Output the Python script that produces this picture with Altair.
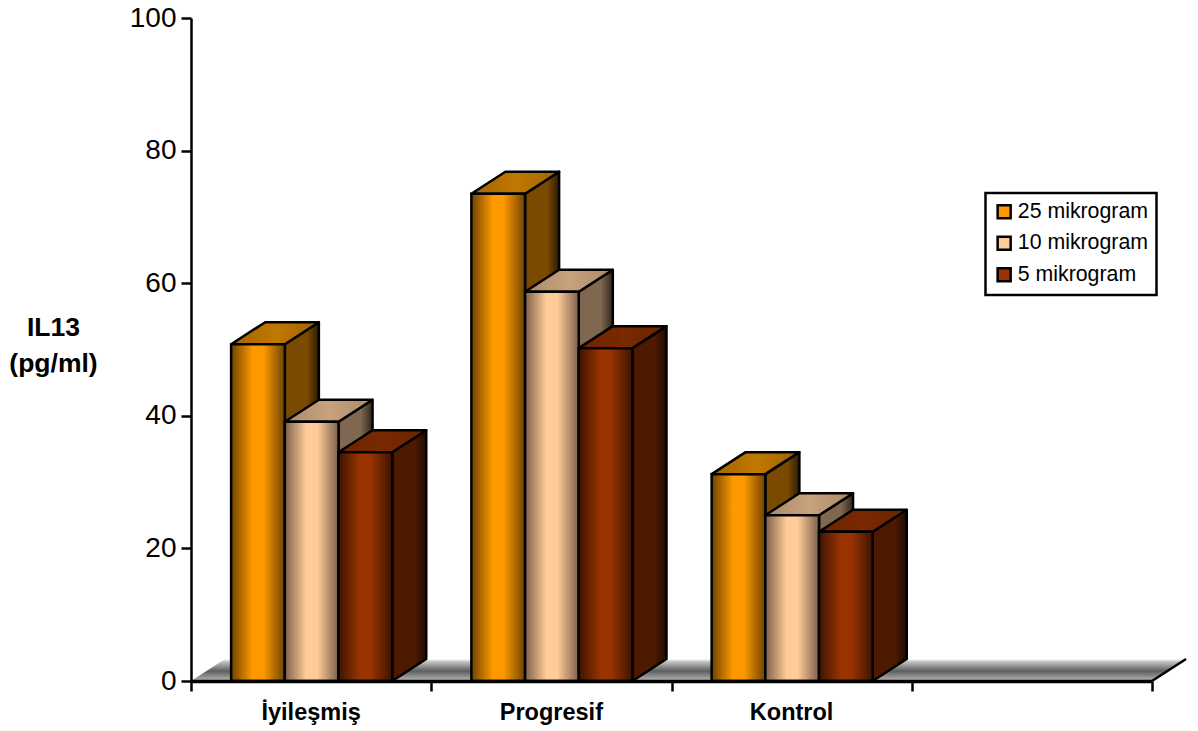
import altair as alt
import pandas as pd

CATEGORIES = ["İyileşmiş", "Progresif", "Kontrol"]
SERIES = ["25 mikrogram", "10 mikrogram", "5 mikrogram"]
VALUES = {
    "25 mikrogram": [50.8, 73.5, 31.2],
    "10 mikrogram": [39.1, 58.7, 25.0],
    "5 mikrogram": [34.5, 50.2, 22.5],
}
Y_TICKS = [0, 20, 40, 60, 80, 100]
X_TICKS = [0, 1, 2, 3, 4]

# Face colours per series: dark edge / bright centre for front, side and top.
FRONT = {"25 mikrogram": ("#6e4300", "#ff9900"),
         "10 mikrogram": ("#7d6048", "#ffcc99"),
         "5 mikrogram": ("#3d1400", "#993300")}
SIDE = {"25 mikrogram": ("#7a4a00", "#2e1c00"),
        "10 mikrogram": ("#80674f", "#2f261d"),
        "5 mikrogram": ("#4d1a00", "#1f0a00")}
TOP = {"25 mikrogram": ("#a06400", "#c07800"),
       "10 mikrogram": ("#a88a6c", "#c8a27c"),
       "5 mikrogram": ("#6a2400", "#7a2900")}

# 3D geometry in data units.
BAR_START = 0.167
BAR_WIDTH = 0.2235
DEPTH_X = 0.1417
DEPTH_Y = 3.32

FONT = "Liberation Sans"


def gradient(stops, horizontal=True):
    return alt.LinearGradient(
        gradient="linear",
        stops=[alt.GradientStop(color=c, offset=o) for o, c in stops],
        x1=0, x2=1 if horizontal else 0, y1=0, y2=0 if horizontal else 1,
    )


x_enc = alt.X(
    "x:Q",
    scale=alt.Scale(domain=[0, 4], nice=False, zero=False),
    axis=alt.Axis(values=X_TICKS, labels=False, title=None, grid=False, tickSize=10,
                  tickWidth=2.5, domainWidth=3.5, tickColor="black", domainColor="black",
                  zindex=1),
)
y_enc = alt.Y(
    "y:Q",
    scale=alt.Scale(domain=[0, 100], nice=False),
    axis=alt.Axis(values=Y_TICKS, title=["IL13", "(pg/ml)"], titleAngle=0, titleX=-138,
                  titleY=309, titleAlign="center", titleBaseline="middle", titleFont=FONT,
                  titleFontSize=26.5, titleFontWeight="bold", titleLineHeight=36,
                  titleColor="black", grid=False, tickSize=10, tickWidth=2.5, domainWidth=2.5,
                  tickColor="black", domainColor="black", labelFont=FONT, labelFontSize=28,
                  labelColor="black", labelPadding=5, zindex=1),
)

front_rows, side_rows, top_rows = [], [], []
for s_idx, series in enumerate(SERIES):
    for c_idx, value in enumerate(VALUES[series]):
        x0 = c_idx + BAR_START + s_idx * BAR_WIDTH
        x1 = x0 + BAR_WIDTH
        bar = f"{c_idx}-{s_idx}"
        front_rows.append(dict(series=series, bar=bar, x=x0, x2=x1, y=value, y2=0))
        side_rows += [
            dict(series=series, bar=bar, x=x1, y=value, y2=0),
            dict(series=series, bar=bar, x=x1 + DEPTH_X, y=value + DEPTH_Y, y2=DEPTH_Y),
        ]
        top_rows += [
            dict(series=series, bar=bar, y=value, x=x0, x2=x1),
            dict(series=series, bar=bar, y=value + DEPTH_Y, x=x0 + DEPTH_X, x2=x1 + DEPTH_X),
        ]
front_df = pd.DataFrame(front_rows)
side_df = pd.DataFrame(side_rows)
top_df = pd.DataFrame(top_rows)

# Solid front faces carry the colour legend; shaded faces are drawn over them.
legend_layer = alt.Chart(front_df).mark_rect().encode(
    x=x_enc, x2="x2:Q", y=y_enc, y2="y2:Q",
    color=alt.Color(
        "series:N",
        scale=alt.Scale(domain=SERIES, range=[FRONT[s][1] for s in SERIES]),
        legend=alt.Legend(
            title=None, orient="none", legendX=794.5, legendY=175,
            fillColor="white", strokeColor="black",
            padding=8, rowPadding=7.5, symbolType="square", symbolSize=170,
            symbolStrokeColor="black", symbolStrokeWidth=2.5, labelFont=FONT,
            labelFontSize=21.3, labelColor="black", labelOffset=3,
        ),
    ),
)

floor_df = pd.DataFrame([
    dict(y=0, x=0, x2=4),
    dict(y=DEPTH_Y, x=DEPTH_X, x2=4 + DEPTH_X),
])
floor = alt.Chart(floor_df).mark_area(
    orient="horizontal",
    fill=gradient([(0, "#ffffff"), (0.12, "#c4c4c4"), (0.55, "#5e5e5e"), (1, "#b8b8b8")], horizontal=False),
).encode(x=x_enc, x2="x2:Q", y=y_enc)

floor_edge = alt.Chart(pd.DataFrame([dict(x=4, x2=4 + DEPTH_X, y=0, y2=DEPTH_Y)])).mark_rule(
    color="black", strokeWidth=2.5
).encode(x=x_enc, x2="x2:Q", y=y_enc, y2="y2:Q")

layers = [legend_layer, floor, floor_edge]

# Painter's order: left to right, each bar's side and top before its front.
for c_idx in range(len(CATEGORIES)):
    for s_idx, series in enumerate(SERIES):
        bar = f"{c_idx}-{s_idx}"
        edge, centre = FRONT[series]
        side_a, side_b = SIDE[series]
        top_a, top_b = TOP[series]
        side = alt.Chart(side_df[side_df.bar == bar]).mark_area(
            fill=gradient([(0, side_a), (0.65, side_a), (1, side_b)]),
            stroke="black", strokeWidth=2.5, strokeJoin="round",
        ).encode(x=x_enc, y=y_enc, y2="y2:Q")
        top = alt.Chart(top_df[top_df.bar == bar]).mark_area(
            orient="horizontal",
            fill=gradient([(0, top_a), (0.5, top_b), (1, top_a)]),
            stroke="black", strokeWidth=2.5, strokeJoin="round",
        ).encode(x=x_enc, x2="x2:Q", y=y_enc)
        front = alt.Chart(front_df[front_df.bar == bar]).mark_rect(
            fill=gradient([(0, edge), (0.4, centre), (0.6, centre), (1, edge)]),
            stroke="black", strokeWidth=2.5,
        ).encode(x=x_enc, x2="x2:Q", y=y_enc, y2="y2:Q")
        layers += [side, top, front]

label_df = pd.DataFrame({
    "label": CATEGORIES,
    "x": [i + 0.5 for i in range(len(CATEGORIES))],
})
labels = alt.Chart(label_df).mark_text(
    font=FONT, fontSize=23.5, fontWeight="bold", color="black", baseline="middle"
).encode(x=x_enc, y=alt.value(695), text="label:N")
layers.append(labels)

chart = alt.layer(*layers).properties(
    width=961,
    height=663,
    padding={"left": 191, "top": 18, "right": 46, "bottom": 50},
    autosize=alt.AutoSizeParams(type="none"),
    background="white",
).configure_view(stroke=None).configure_legend(strokeWidth=2.5)

chart.save("out.html", embed_options={"renderer": "svg", "actions": False})
